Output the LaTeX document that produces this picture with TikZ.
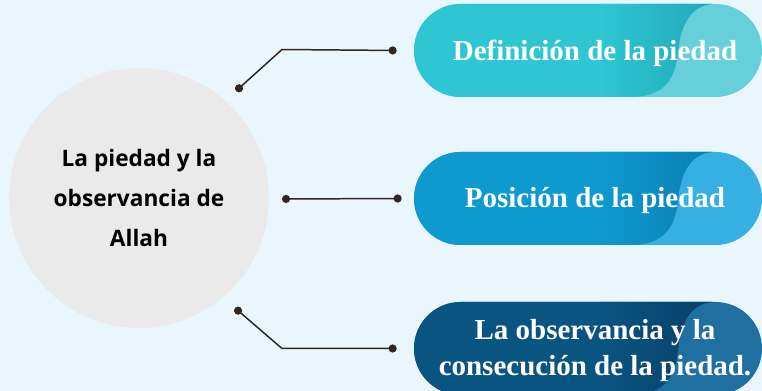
\documentclass[tikz,border=0pt]{standalone}
\usepackage{fontspec}
\setmainfont{Liberation Serif}
\setsansfont{Open Sans}
\usetikzlibrary{positioning, calc, arrows.meta}

\definecolor{bgblue}{HTML}{EAF6FD}
\definecolor{hubgray}{HTML}{EAEAEA}
\definecolor{linkbrown}{HTML}{2E2620}
\definecolor{tealmain}{HTML}{2EC6D3}
\definecolor{teallight}{HTML}{65D0DA}
\definecolor{tealdark}{HTML}{22A8B8}
\definecolor{bluemain}{HTML}{0E99CF}
\definecolor{bluelight}{HTML}{36B0E2}
\definecolor{bluedark}{HTML}{0A80B2}
\definecolor{navymain}{HTML}{0A5482}
\definecolor{navylight}{HTML}{1F6FA0}
\definecolor{navydark}{HTML}{074068}

% pill: #1 name, #2 top (px), #3 main, #4 light, #5 dark, #6 text
\newcommand{\pill}[6]{%
  \fill[#4, rounded corners=0.93cm] (414,#2) rectangle (762,{#2+93});
  \begin{scope}
    \clip[rounded corners=0.93cm] (414,#2) rectangle (762,{#2+93});
    \clip (400,{#2-5}) -- (712,{#2-5}) -- (712,#2)
      .. controls (688,{#2+2}) and (680,{#2+26}) .. (678,{#2+48})
      .. controls (675,{#2+78}) and (662,{#2+92}) .. (632,{#2+93})
      -- (632,{#2+98}) -- (400,{#2+98}) -- cycle;
    \fill[#3] (400,{#2-5}) rectangle (762,{#2+98});
    \shade[left color=#3, right color=#5] (600,{#2-5}) rectangle (712,{#2+98});
  \end{scope}
  \node[pillbox] (#1) at (588,{#2+46.5}) {};
  \node[pilltext] (#1-label) at ([xshift=0.14cm, yshift=-0.05cm]#1.center) {#6};
}

\begin{document}
\begin{tikzpicture}[
    x=0.02cm, y=-0.02cm,
    hub/.style={circle, fill=hubgray, minimum size=5.2cm, inner sep=0pt,
      align=center, font=\sffamily\bfseries\fontsize{12.9}{22.8}\selectfont},
    pillbox/.style={rectangle, minimum width=6.96cm, minimum height=1.86cm, inner sep=0pt},
    pilltext/.style={text=white, align=center, font=\bfseries\fontsize{16.5}{20.5}\selectfont},
    link/.style={{Circle[length=4.6pt]}-{Circle[length=4.6pt]}, line width=0.85pt, draw=linkbrown}
]
\useasboundingbox (0,0) rectangle (762,391);
\fill[bgblue] (0,0) rectangle (762,391);

% central topic
\node[hub] (hub) at (139,198) {La piedad y la\\observancia de\\Allah};

% branches
\pill{def}{4}{tealmain}{teallight}{tealdark}{Definición de la piedad}
\pill{pos}{152}{bluemain}{bluelight}{bluedark}{Posición de la piedad}
\pill{obs}{302}{navymain}{navylight}{navydark}{La observancia y la\\consecución de la piedad.}

% connectors
\coordinate (h1) at (236,91);
\coordinate (h2) at (282,199);
\coordinate (h3) at (235,308);
\coordinate (p1) at ([xshift=-0.34cm]def.west);
\coordinate (p2) at ([xshift=-0.24cm]pos.west);
\coordinate (p3) at ([xshift=-0.34cm]obs.west);

\draw[link] (h1) -- ++(46,-41.5) -- (p1);
\draw[link] (h2) -- (p2);
\draw[link] (h3) -- ++(47,40.5) -- (p3);

\end{tikzpicture}
\end{document}
